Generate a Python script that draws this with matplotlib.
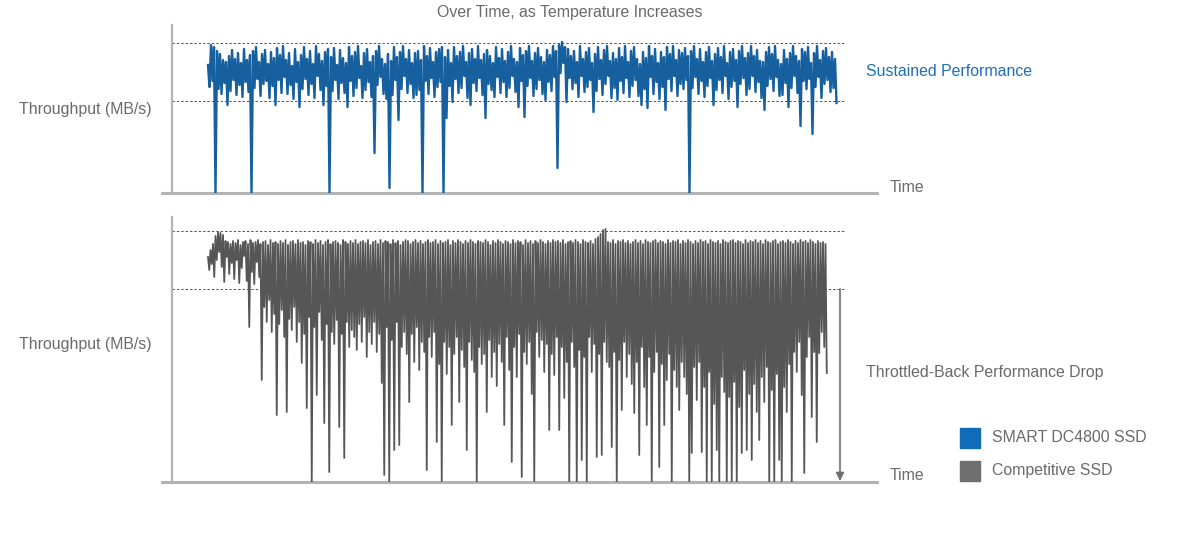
import numpy as np
import matplotlib
matplotlib.use("Agg")
import matplotlib.pyplot as plt

plt.rcParams['font.family'] = ['Liberation Sans', 'DejaVu Sans']

# %% Data (throughput, arbitrary units)
# SMART DC4800 SSD: upper and lower swings of the noisy trace (they alternate in time)
dc4800_upper = [
    128, 148, 146, 142, 139, 133, 131, 137, 143, 134,
    140, 130, 144, 133, 138, 142, 146, 131, 139, 143,
    129, 141, 135, 145, 138, 147, 133, 140, 127, 144,
    131, 138, 146, 134, 142, 129, 147, 139, 132, 141,
    144, 136, 145, 128, 143, 135, 130, 146, 137, 141,
    147, 127, 140, 144, 131, 137, 142, 147, 134, 129,
    139, 132, 146, 136, 141, 147, 134, 143, 130, 140,
    142, 133, 147, 137, 145, 131, 141, 144, 146, 136,
    143, 130, 146, 137, 141, 147, 131, 140, 144, 134,
    147, 133, 139, 143, 137, 130, 146, 135, 144, 132,
    141, 147, 134, 131, 145, 138, 142, 147, 132, 140,
    145, 136, 131, 143, 138, 147, 142, 148, 151, 146,
    144, 137, 142, 131, 147, 134, 141, 145, 130, 139,
    146, 133, 143, 147, 132, 140, 134, 145, 136, 147,
    131, 142, 146, 134, 129, 141, 135, 147, 137, 144,
    130, 141, 136, 146, 139, 147, 133, 143, 140, 145,
    137, 142, 147, 134, 144, 131, 141, 146, 132, 139,
    145, 136, 147, 130, 141, 144, 133, 142, 147, 135,
    140, 147, 137, 143, 132, 131, 141, 146, 139, 147,
    133, 129, 143, 134, 140, 147, 137, 132, 144, 141,
    146, 130, 140, 147, 133, 142, 145, 136, 141, 134,
]
dc4800_lower = [
    106, 112, 0, 104, 99, 110, 88, 102, 113, 98,
    108, 96, 111, 101, 0, 105, 114, 97, 109, 112,
    95, 107, 88, 113, 100, 116, 99, 108, 94, 111,
    86, 104, 114, 98, 109, 95, 117, 103, 88, 107,
    0, 102, 113, 94, 110, 100, 86, 112, 97, 105,
    115, 95, 103, 111, 96, 40, 108, 116, 99, 94,
    5, 98, 113, 73, 104, 117, 100, 109, 95, 98,
    103, 0, 112, 99, 115, 96, 106, 111, 0, 75,
    107, 91, 114, 100, 105, 117, 95, 88, 110, 102,
    115, 98, 75, 109, 103, 96, 116, 100, 111, 96,
    105, 117, 101, 86, 112, 76, 107, 115, 97, 104,
    113, 99, 93, 111, 102, 116, 25, 120, 130, 91,
    115, 104, 110, 96, 117, 101, 106, 113, 81, 102,
    114, 98, 109, 117, 95, 105, 93, 112, 100, 115,
    96, 107, 113, 97, 88, 104, 85, 116, 99, 111,
    94, 106, 83, 114, 102, 117, 97, 109, 104, 113,
    0, 105, 116, 99, 112, 96, 107, 115, 88, 103,
    113, 100, 117, 94, 106, 112, 86, 109, 115, 98,
    104, 117, 101, 111, 95, 83, 107, 114, 102, 116,
    97, 98, 110, 86, 105, 117, 100, 67, 112, 104,
    114, 59, 106, 116, 95, 109, 113, 101, 105, 90,
]

# Competitive SSD: peaks and troughs of the trace (alternating), throttles as it heats up
comp_peaks = [
    225, 232, 238, 246, 250, 249, 247, 241, 240, 238,
    241, 239, 242, 237, 240, 241, 238, 242, 239, 240,
    242, 238, 240, 241, 237, 242, 239, 240, 238, 241,
    239, 242, 237, 240, 241, 238, 242, 239, 240, 237,
    241, 240, 238, 242, 239, 241, 237, 240, 242, 238,
    240, 241, 239, 237, 242, 240, 238, 241, 239, 242,
    238, 240, 241, 239, 242, 237, 240, 241, 238, 242,
    239, 241, 240, 238, 242, 239, 241, 237, 240, 242,
    241, 238, 240, 242, 239, 241, 238, 240, 242, 239,
    240, 242, 238, 241, 239, 240, 242, 237, 241, 239,
    242, 240, 238, 241, 239, 242, 240, 238, 241, 240,
    239, 242, 240, 237, 241, 239, 242, 240, 238, 241,
    240, 238, 242, 239, 241, 240, 237, 242, 239, 241,
    238, 241, 239, 242, 240, 238, 241, 239, 242, 240,
    241, 239, 242, 238, 240, 241, 239, 242, 240, 238,
    242, 240, 239, 241, 238, 243, 245, 248, 252, 253,
    240, 239, 242, 238, 241, 240, 242, 239, 241, 238,
    240, 242, 239, 241, 238, 242, 240, 239, 241, 242,
    239, 241, 240, 238, 242, 239, 241, 240, 242, 238,
    241, 239, 242, 240, 238, 241, 239, 242, 240, 241,
    238, 242, 240, 239, 241, 238, 242, 240, 239, 241,
    242, 239, 241, 240, 238, 242, 239, 241, 240, 242,
    239, 241, 238, 242, 240, 239, 241, 242, 238, 240,
    241, 239, 242, 240, 238, 241, 239, 242, 240, 241,
    239, 242, 240, 238, 241, 239, 240, 238,
]
comp_troughs = [
    212, 218, 205, 222, 230, 215, 200, 225, 208, 219,
    203, 222, 199, 214, 226, 201, 155, 210, 198, 220,
    205, 102, 175, 160, 182, 150, 168, 67, 158, 172,
    145, 70, 163, 152, 175, 140, 160, 119, 148, 74,
    165, 0, 155, 87, 170, 142, 59, 158, 10, 150,
    138, 162, 55, 148, 24, 160, 135, 152, 145, 132,
    158, 140, 165, 125, 150, 138, 160, 130, 148, 99,
    7, 155, 0, 142, 32, 160, 37, 135, 150, 128,
    80, 148, 120, 155, 112, 140, 130, 12, 145, 125,
    150, 40, 118, 0, 140, 108, 135, 57, 128, 145,
    80, 132, 115, 32, 140, 122, 110, 0, 135, 118,
    128, 70, 142, 105, 130, 96, 138, 120, 57, 145,
    112, 20, 135, 105, 148, 5, 130, 118, 140, 88,
    0, 150, 125, 142, 110, 138, 52, 128, 107, 145,
    52, 135, 84, 120, 0, 140, 115, 0, 132, 22,
    125, 0, 145, 110, 138, 25, 128, 27, 140, 120,
    115, 35, 130, 0, 122, 72, 140, 105, 128, 98,
    69, 120, 27, 135, 95, 57, 125, 0, 110, 130,
    15, 118, 57, 102, 128, 0, 112, 95, 72, 120,
    105, 88, 0, 29, 115, 82, 120, 30, 95, 0,
    110, 0, 78, 32, 0, 105, 90, 0, 85, 0,
    100, 0, 75, 29, 112, 32, 88, 22, 98, 70,
    42, 105, 80, 115, 0, 92, 0, 108, 22, 0,
    95, 70, 118, 0, 130, 110, 140, 87, 9, 125,
    145, 65, 130, 40, 129, 150, 135, 109,
]

top_guides = [150, 92]      # dashed guide levels, top panel
bottom_guides = [251, 193]  # dashed guide levels, bottom panel

title = "Over Time, as Temperature Increases"
legend_labels = ["SMART DC4800 SSD", "Competitive SSD"]
blue = '#17609f'
gray = '#565656'
txt_gray = '#6a6a6a'
axis_gray = '#b3b3b3'
fs = 11.4

# the two halves of each trace alternate in time
smart_dc4800 = np.column_stack([dc4800_upper, dc4800_lower]).ravel()
competitive = np.column_stack([comp_peaks, comp_troughs]).ravel()

# time axis (same test duration for both drives)
t_blue = np.arange(len(smart_dc4800)) * 1.5
t_gray = np.arange(len(competitive)) * 1.25

# %% Figure
W, H = 1186, 551
fig = plt.figure(figsize=(W / 100, H / 100), dpi=100)

def px_axes(x0, y0, x1, y1):
    return fig.add_axes([x0 / W, 1 - y1 / H, (x1 - x0) / W, (y1 - y0) / H])

ax1 = px_axes(172, 25, 877, 193)
ax2 = px_axes(172, 217, 877, 482)

for ax, ymax in [(ax1, 168), (ax2, 265)]:
    ax.set_xlim(-36, 669)
    ax.set_ylim(0, ymax)
    ax.set_xticks([])
    ax.set_yticks([])
    for s in ['top', 'right', 'bottom']:
        ax.spines[s].set_visible(False)
    ax.spines['left'].set_color(axis_gray)
    ax.spines['left'].set_linewidth(1.6)
    # x axis line sticks out a bit to the left of the y axis
    ax.axhline(0, xmin=-10 / 705, xmax=1, color=axis_gray, lw=2.2, clip_on=False, zorder=1)
    ax.patch.set_visible(False)

# dashed guides
for g in top_guides:
    ax1.plot([-36, 637], [g, g], ls=(0, (2.5, 2)), color='#555555', lw=0.7, zorder=1)
for g in bottom_guides:
    ax2.plot([-36, 637], [g, g], ls=(0, (2.5, 2)), color='#555555', lw=0.7, zorder=1)

ax1.plot(t_blue, smart_dc4800, color=blue, lw=1.7, zorder=3)
ax2.plot(t_gray, competitive, color=gray, lw=1.3, zorder=3)

# arrow showing the drop
ax2.annotate('', xy=(632, 1), xytext=(632, 193),
             arrowprops=dict(arrowstyle='-|>', color='#6f6f6f', lw=1.2,
                             mutation_scale=12, shrinkA=0, shrinkB=0))

# texts
fig.text(570 / W, 1 - 12 / H, title, ha='center', va='center', fontsize=fs, color=txt_gray)
fig.text(85 / W, 1 - 110 / H, "Throughput (MB/s)", ha='center', va='center', fontsize=fs, color=txt_gray)
fig.text(85 / W, 1 - 344 / H, "Throughput (MB/s)", ha='center', va='center', fontsize=fs, color=txt_gray)
fig.text(890 / W, 1 - 188 / H, "Time", ha='left', va='center', fontsize=fs, color=txt_gray)
fig.text(890 / W, 1 - 476 / H, "Time", ha='left', va='center', fontsize=fs, color=txt_gray)
fig.text(866 / W, 1 - 72 / H, "Sustained Performance", ha='left', va='center', fontsize=fs, color='#1f6fb5')
fig.text(866 / W, 1 - 373 / H, "Throttled-Back Performance Drop", ha='left', va='center', fontsize=fs, color=txt_gray)

# legend
for k, (lab, c) in enumerate(zip(legend_labels, ['#0e6cb8', '#6e6e6e'])):
    yc = 438 + 33 * k
    fig.patches.append(plt.Rectangle((960 / W, 1 - (yc + 10) / H), 20 / W, 20 / H,
                                     transform=fig.transFigure, color=c))
    fig.text(992 / W, 1 - yc / H, lab, ha='left', va='center', fontsize=fs, color=txt_gray)

fig.savefig('out.png', dpi=100)
